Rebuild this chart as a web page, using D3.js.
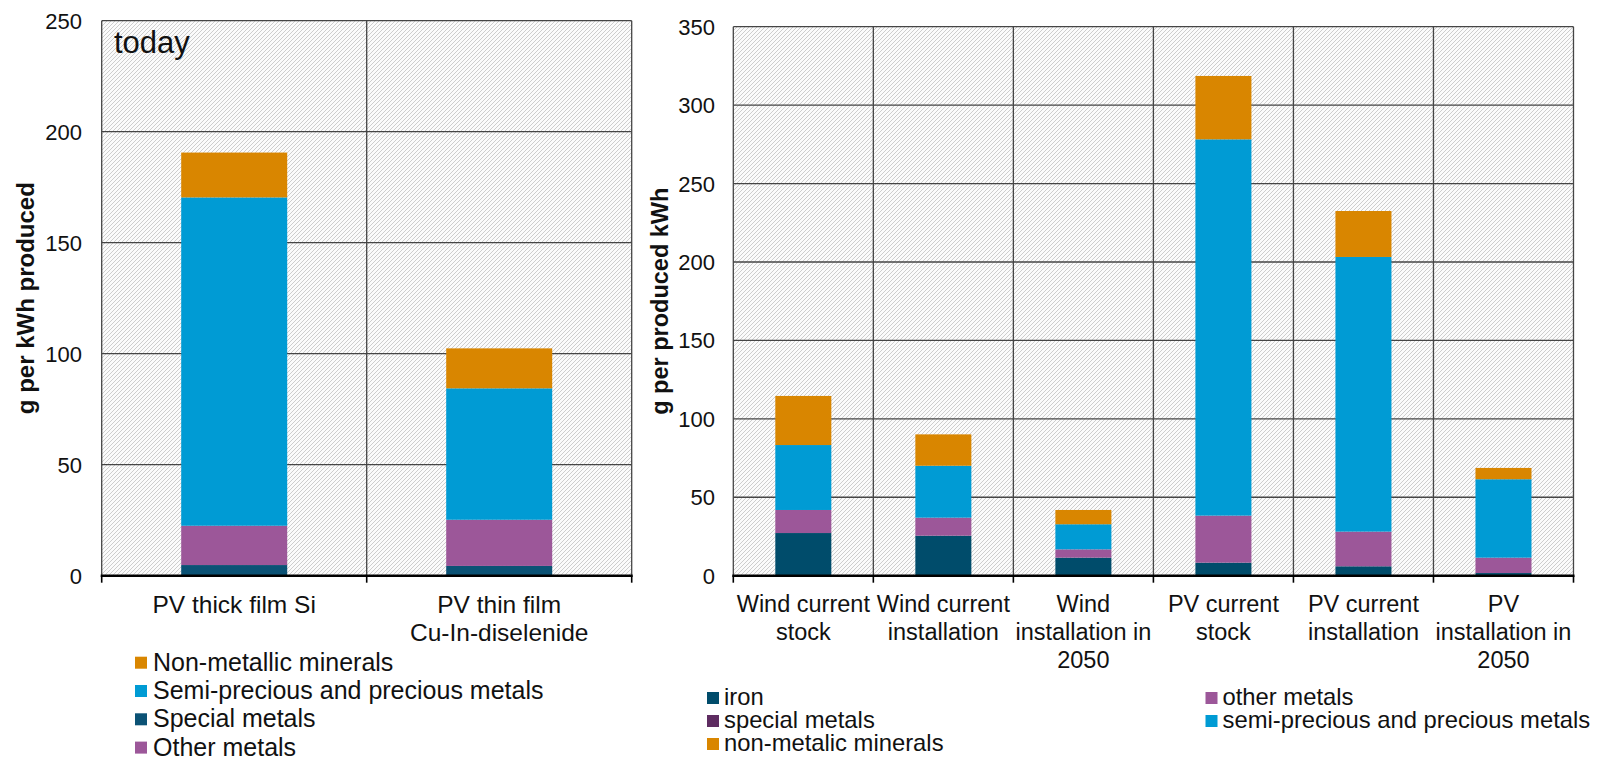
<!DOCTYPE html>
<html>
<head>
<meta charset="utf-8">
<script src="https://cdn.jsdelivr.net/npm/d3@7"></script>
<style>
  html, body { margin: 0; padding: 0; background: #fff; }
  svg { display: block; font-family: "Liberation Sans", Arial, sans-serif; }
</style>
</head>
<body>
<svg id="chart" width="1602" height="760"></svg>
<script>
// ---- Left panel: PV technologies today (g per kWh produced) ----
const leftCategories = [["PV thick film Si"], ["PV thin film", "Cu-In-diselenide"]];
const leftSeries = ["Special metals", "Other metals", "Semi-precious and precious metals", "Non-metallic minerals"];
const leftSpecial = [4.8, 4.4];
const leftOther = [17.7, 20.8];
const leftSemiPrecious = [147.9, 59.2];
const leftNonMetallic = [20.2, 18.0];
const leftTicks = [0, 50, 100, 150, 200, 250];
const leftLegendOrder = ["Non-metallic minerals", "Semi-precious and precious metals", "Special metals", "Other metals"];

// ---- Right panel: wind and PV, stock vs installation (g per produced kWh) ----
const rightCategories = [
  ["Wind current", "stock"],
  ["Wind current", "installation"],
  ["Wind", "installation in", "2050"],
  ["PV current", "stock"],
  ["PV current", "installation"],
  ["PV", "installation in", "2050"]
];
const rightSeries = ["iron", "special metals", "other metals", "semi-precious and precious metals", "non-metalic minerals"];
const rightIron = [27.2, 25.5, 11.5, 8.3, 6.0, 1.7];
const rightSpecial = [0, 0, 0, 0, 0, 0];
const rightOther = [14.7, 11.5, 5.3, 30.0, 22.1, 9.8];
const rightSemiPrecious = [41.4, 33.1, 16.0, 239.9, 175.1, 50.0];
const rightNonMetallic = [31.3, 20.0, 9.1, 40.4, 29.3, 7.2];
const rightTicks = [0, 50, 100, 150, 200, 250, 300, 350];
const rightLegendOrder = ["iron", "other metals", "special metals", "semi-precious and precious metals", "non-metalic minerals"];

const colors = {
  "Special metals": "#0b5275",
  "Other metals": "#9c5799",
  "Semi-precious and precious metals": "#009bd4",
  "Non-metallic minerals": "#d98600",
  "iron": "#004c6b",
  "special metals": "#5e2c61",
  "other metals": "#9c5799",
  "semi-precious and precious metals": "#009bd4",
  "non-metalic minerals": "#d98600"
};

const svg = d3.select("#chart");

// diagonal hatch used as plot background
const defs = svg.append("defs");
const pat = defs.append("pattern")
  .attr("id", "hatch")
  .attr("patternUnits", "userSpaceOnUse")
  .attr("width", 4).attr("height", 4);
pat.append("rect").attr("width", 4).attr("height", 4).attr("fill", "#fbfbfb");
pat.append("path")
  .attr("d", "M-1,1 L1,-1 M0,4 L4,0 M3,5 L5,3")
  .attr("stroke", "#cdcdcd").attr("stroke-width", 1);

function drawPanel(cfg) {
  const g = svg.append("g");
  const names = cfg.categories.map((c, i) => i);
  const x = d3.scaleBand().domain(names).range([cfg.x0, cfg.x1])
    .paddingInner(0.6).paddingOuter(0.3);
  const y = d3.scaleLinear().domain([0, cfg.max]).range([cfg.yZero, cfg.yTop]);
  const step = x.step();

  // plot background
  g.append("rect")
    .attr("x", cfg.x0).attr("y", cfg.yTop)
    .attr("width", cfg.x1 - cfg.x0).attr("height", cfg.yZero - cfg.yTop)
    .attr("fill", "url(#hatch)");

  // horizontal gridlines
  g.selectAll(".hgrid").data(cfg.ticks.filter(t => t > 0)).join("line")
    .attr("x1", cfg.x0).attr("x2", cfg.x1)
    .attr("y1", d => y(d)).attr("y2", d => y(d))
    .attr("stroke", "#454545").attr("stroke-width", 1.3);

  // vertical gridlines at category boundaries
  const bounds = d3.range(cfg.categories.length + 1).map(i => cfg.x0 + i * step);
  g.selectAll(".vgrid").data(bounds).join("line")
    .attr("x1", d => d).attr("x2", d => d)
    .attr("y1", cfg.yTop).attr("y2", cfg.yZero)
    .attr("stroke", "#454545").attr("stroke-width", 1.3);

  // stacked bars
  const rows = cfg.categories.map((c, i) => {
    const r = { idx: i };
    cfg.series.forEach((s, k) => r[s] = cfg.values[k][i]);
    return r;
  });
  const stacked = d3.stack().keys(cfg.series)(rows);
  g.selectAll(".layer").data(stacked).join("g")
    .attr("fill", d => colors[d.key])
    .selectAll("rect").data(d => d).join("rect")
    .attr("x", d => x(d.data.idx))
    .attr("width", x.bandwidth())
    .attr("y", d => y(d[1]))
    .attr("height", d => y(d[0]) - y(d[1]));

  // x axis line and ticks
  g.append("line")
    .attr("x1", cfg.x0 - 1).attr("x2", cfg.x1 + 1)
    .attr("y1", cfg.yZero).attr("y2", cfg.yZero)
    .attr("stroke", "#000").attr("stroke-width", 2.6);
  g.selectAll(".xtick").data(bounds).join("line")
    .attr("x1", d => d).attr("x2", d => d)
    .attr("y1", cfg.yZero).attr("y2", cfg.yZero + 7)
    .attr("stroke", "#000").attr("stroke-width", 1.6);

  // y tick labels
  g.selectAll(".ylab").data(cfg.ticks).join("text")
    .attr("x", cfg.labelX).attr("y", d => y(d) + 8)
    .attr("text-anchor", "end")
    .attr("font-size", 22).attr("fill", "#111")
    .text(d => d);

  // category labels (multi-line)
  const cl = g.selectAll(".xlab").data(cfg.categories).join("text")
    .attr("text-anchor", "middle")
    .attr("font-size", cfg.catFont).attr("fill", "#111");
  cl.selectAll("tspan").data((d, i) => d.map(line => ({ line, i }))).join("tspan")
    .attr("x", d => x(d.i) + x.bandwidth() / 2)
    .attr("y", (d, j) => cfg.catY + j * 28.2)
    .text(d => d.line);

  // y axis title
  g.append("text")
    .attr("transform", `translate(${cfg.titleX},${(cfg.yTop + cfg.yZero) / 2}) rotate(-90)`)
    .attr("text-anchor", "middle")
    .attr("font-size", cfg.titleFont).attr("font-weight", "bold").attr("fill", "#111")
    .text(cfg.title);

  return { x, y, g };
}

// left panel
const left = drawPanel({
  categories: leftCategories,
  series: leftSeries,
  values: [leftSpecial, leftOther, leftSemiPrecious, leftNonMetallic],
  ticks: leftTicks, max: 250,
  x0: 101.7, x1: 631.7, yTop: 20.7, yZero: 575.7,
  labelX: 82, catFont: 24.5, catY: 613,
  title: "g per kWh produced", titleX: 34, titleFont: 24
});
left.g.append("text")
  .attr("x", 114).attr("y", 53)
  .attr("font-size", 31).attr("fill", "#111")
  .text("today");

// right panel
drawPanel({
  categories: rightCategories,
  series: rightSeries,
  values: [rightIron, rightSpecial, rightOther, rightSemiPrecious, rightNonMetallic],
  ticks: rightTicks, max: 350,
  x0: 733.3, x1: 1573.5, yTop: 26.7, yZero: 575.7,
  labelX: 715, catFont: 23.5, catY: 612,
  title: "g per produced kWh", titleX: 668, titleFont: 23.5
});

// left legend (vertical list)
const ll = svg.append("g").selectAll("g").data(leftLegendOrder).join("g")
  .attr("transform", (d, i) => `translate(135,${670.7 + i * 28.3})`);
ll.append("rect").attr("x", 0).attr("y", -14).attr("width", 12).attr("height", 12)
  .attr("fill", d => colors[d]);
ll.append("text").attr("x", 18).attr("y", 0)
  .attr("font-size", 25).attr("fill", "#111").text(d => d);

// right legend (two columns, row-major)
const rl = svg.append("g").selectAll("g").data(rightLegendOrder).join("g")
  .attr("transform", (d, i) => `translate(${i % 2 === 0 ? 707 : 1205.5},${705 + Math.floor(i / 2) * 23})`);
rl.append("rect").attr("x", 0).attr("y", -13).attr("width", 12).attr("height", 12)
  .attr("fill", d => colors[d]);
rl.append("text").attr("x", 17).attr("y", 0)
  .attr("font-size", 23.8).attr("fill", "#111").text(d => d);
</script>
</body>
</html>
